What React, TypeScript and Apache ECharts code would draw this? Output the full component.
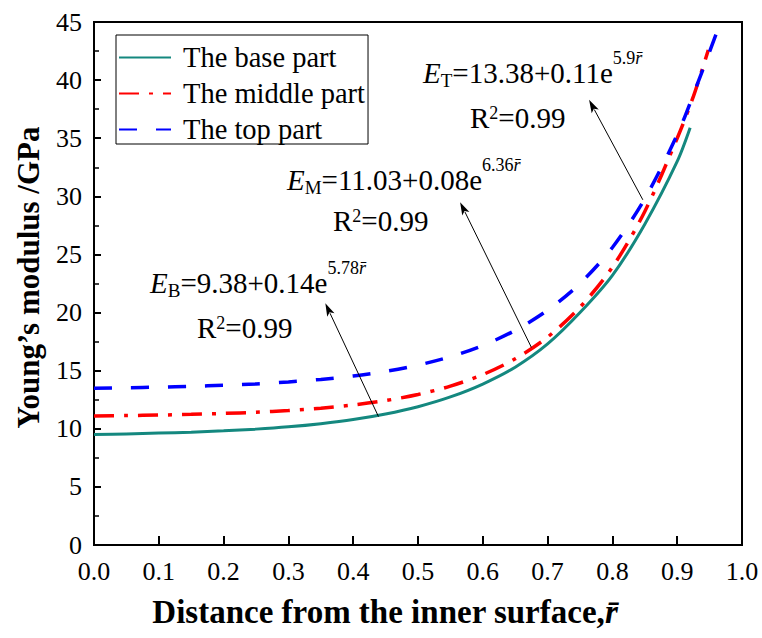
import React, { useEffect, useRef } from "react";
import * as echarts from "echarts";

const FONT = "'Times New Roman', 'Liberation Serif', serif";

// Series names
const seriesNames = ["The base part", "The middle part", "The top part"];

// Distance r (x) and Young's modulus E (y)
const baseR = [0, 0.05, 0.1, 0.15, 0.2, 0.25, 0.3, 0.35, 0.4, 0.45, 0.5, 0.55, 0.6, 0.65, 0.7, 0.75, 0.8, 0.85, 0.9, 0.92];
const baseE = [9.5, 9.56, 9.63, 9.71, 9.82, 9.97, 10.17, 10.44, 10.79, 11.27, 11.9, 12.74, 13.85, 15.3, 17.3, 20.0, 23.2, 27.6, 33.0, 35.9];

const midR = [0, 0.05, 0.1, 0.15, 0.2, 0.25, 0.3, 0.35, 0.4, 0.45, 0.5, 0.55, 0.6, 0.65, 0.7, 0.75, 0.8, 0.85, 0.9, 0.925, 0.948];
const midE = [11.11, 11.14, 11.18, 11.24, 11.32, 11.42, 11.57, 11.77, 12.05, 12.43, 12.95, 13.67, 14.66, 16.02, 17.89, 20.46, 23.9, 28.7, 35.0, 38.6, 42.6];

const topR = [0, 0.05, 0.1, 0.15, 0.2, 0.25, 0.3, 0.35, 0.4, 0.45, 0.5, 0.55, 0.6, 0.65, 0.7, 0.75, 0.8, 0.85, 0.9, 0.93, 0.961];
const topE = [13.49, 13.53, 13.58, 13.65, 13.74, 13.86, 14.03, 14.25, 14.54, 14.94, 15.48, 16.2, 17.17, 18.47, 20.2, 22.5, 25.6, 29.8, 35.3, 39.5, 44.1];

// Annotation arrows (data coordinates): from curve point to label
const arrowFrom = [
  [0.439, 11.05],
  [0.675, 17.0],
  [0.847, 29.7],
];
const arrowTo = [
  [0.357, 20.8],
  [0.565, 29.5],
  [0.764, 38.3],
];

const AXIS_COLOR = "#000";

export default function App() {
  const ref = useRef<HTMLDivElement>(null);

  useEffect(() => {
    if (!ref.current) return;
    const chart = echarts.init(ref.current, undefined, { renderer: "svg" });

    const rich: any = {
      it: { fontFamily: FONT, fontSize: 29, fontStyle: "italic", lineHeight: 50, fill: "#000" },
      m: { fontFamily: FONT, fontSize: 29, lineHeight: 50, fill: "#000" },
      sub: { fontFamily: FONT, fontSize: 19, verticalAlign: "top", padding: [23, 0, 0, 0], fill: "#000" },
      sup: { fontFamily: FONT, fontSize: 18, verticalAlign: "top", padding: [1, 0, 0, 0], fill: "#000" },
      supi: { fontFamily: FONT, fontSize: 18, fontStyle: "italic", verticalAlign: "top", padding: [1, 0, 0, 0], fill: "#000" },
      sup2: { fontFamily: FONT, fontSize: 18, verticalAlign: "top", padding: [11, 0, 0, 0], fill: "#000" },
    };

    const label = (x: number, y: number, text: string) => ({
      type: "text",
      x,
      y,
      silent: true,
      z: 20,
      style: { text, rich, align: "left", verticalAlign: "top" },
    });

    const toPairs = (rs: number[], es: number[]) => rs.map((r, i) => [r, es[i]]);

    const option: any = {
      animation: false,
      backgroundColor: "#fff",
      grid: {
        left: 94,
        right: 20,
        top: 22,
        bottom: 93,
        show: true,
        borderColor: AXIS_COLOR,
        borderWidth: 2,
        backgroundColor: "transparent",
      },
      legend: {
        left: 116,
        top: 35,
        orient: "vertical",
        itemWidth: 52,
        itemHeight: 14,
        itemGap: 7,
        padding: [8, 3, 0, 2],
        borderColor: "#000",
        borderWidth: 1,
        data: seriesNames,
        itemStyle: { opacity: 0 },
        textStyle: { fontFamily: FONT, fontSize: 28.5, color: "#000", padding: [0, 0, 0, 7] },
      },
      xAxis: {
        type: "value",
        min: 0,
        max: 1,
        interval: 0.1,
        name: "Distance from the inner surface,{r|r\u0304}",
        nameLocation: "middle",
        nameGap: 50,
        nameTextStyle: {
          fontFamily: FONT,
          fontSize: 33,
          fontWeight: "bold",
          color: "#000",
          padding: [0, 66, 0, 0],
          rich: { r: { fontFamily: FONT, fontSize: 33, fontWeight: "bold", fontStyle: "italic", color: "#000" } },
        },
        axisLine: { show: true, onZero: false, lineStyle: { color: AXIS_COLOR, width: 2 } },
        axisTick: { show: true, inside: true, length: 9, lineStyle: { color: AXIS_COLOR, width: 2 } },
        axisLabel: {
          fontFamily: FONT,
          fontSize: 26,
          color: "#000",
          margin: 13,
          formatter: (v: number) => v.toFixed(1),
        },
        splitLine: { show: false },
      },
      yAxis: {
        type: "value",
        min: 0,
        max: 45,
        interval: 5,
        name: "Young\u2019s modulus /GPa",
        nameLocation: "middle",
        nameGap: 50,
        nameTextStyle: { fontFamily: FONT, fontSize: 31, fontWeight: "bold", color: "#000", padding: [0, 0, 0, 12] },
        axisLine: { show: true, lineStyle: { color: AXIS_COLOR, width: 2 } },
        axisTick: { show: true, inside: true, length: 7, lineStyle: { color: AXIS_COLOR, width: 2 } },
        minorTick: { show: true, splitNumber: 2, length: 5, lineStyle: { color: AXIS_COLOR, width: 1.5 } },
        axisLabel: { fontFamily: FONT, fontSize: 26, color: "#000", margin: 12 },
        splitLine: { show: false },
      },
      series: [
        {
          type: "line",
          name: seriesNames[0],
          data: toPairs(baseR, baseE),
          smooth: 0.3,
          symbol: "none",
          color: "#14887f",
          lineStyle: { color: "#14887f", width: 3 },
          z: 3,
        },
        {
          type: "line",
          name: seriesNames[1],
          data: toPairs(midR, midE),
          smooth: 0.3,
          symbol: "none",
          color: "#ff0000",
          lineStyle: { color: "#ff0000", width: 3.5, type: [20, 10, 4, 10], cap: "butt" },
          z: 4,
        },
        {
          type: "line",
          name: seriesNames[2],
          data: toPairs(topR, topE),
          smooth: 0.3,
          symbol: "none",
          color: "#0000ff",
          lineStyle: { color: "#0000ff", width: 3.5, type: [18, 19], cap: "butt" },
          z: 5,
        },
      ],
    };

    chart.setOption(option);

    const labels = [
      label(423, 47.5, "{it|E}{sub|T}{m|=13.38+0.11e}{sup|5.9}{supi|r\u0304}"),
      label(470, 92.5, "{m|R}{sup2|2}{m|=0.99}"),
      label(287, 154.5, "{it|E}{sub|M}{m|=11.03+0.08e}{sup|6.36}{supi|r\u0304}"),
      label(333, 195.5, "{m|R}{sup2|2}{m|=0.99}"),
      label(150, 257.5, "{it|E}{sub|B}{m|=9.38+0.14e}{sup|5.78}{supi|r\u0304}"),
      label(197, 302.5, "{m|R}{sup2|2}{m|=0.99}"),
    ];

    const arrowEls: any[] = [];
    arrowFrom.forEach((f, i) => {
      const p0 = chart.convertToPixel({ gridIndex: 0 }, f) as number[];
      const p1 = chart.convertToPixel({ gridIndex: 0 }, arrowTo[i]) as number[];
      const dx = p1[0] - p0[0];
      const dy = p1[1] - p0[1];
      const len = Math.hypot(dx, dy) || 1;
      const ux = dx / len;
      const uy = dy / len;
      const hl = 13;
      const hw = 4;
      const bx = p1[0] - ux * hl;
      const by = p1[1] - uy * hl;
      arrowEls.push({
        type: "line",
        silent: true,
        z: 15,
        shape: { x1: p0[0], y1: p0[1], x2: bx + ux * 2, y2: by + uy * 2 },
        style: { stroke: "#000", lineWidth: 1 },
      });
      arrowEls.push({
        type: "polygon",
        silent: true,
        z: 15,
        shape: {
          points: [
            [p1[0], p1[1]],
            [bx - uy * hw, by + ux * hw],
            [bx + ux * 3, by + uy * 3],
            [bx + uy * hw, by - ux * hw],
          ],
        },
        style: { fill: "#000" },
      });
    });

    chart.setOption({ graphic: [...labels, ...arrowEls] });

    return () => chart.dispose();
  }, []);

  return (
    <div
      ref={ref}
      style={{ position: "fixed", left: 0, top: 0, width: 762, height: 638, background: "#fff" }}
    />
  );
}
